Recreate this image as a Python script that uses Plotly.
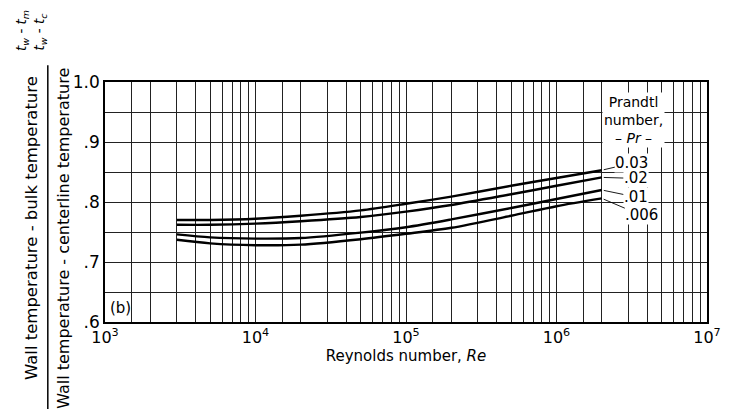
import math
import plotly.graph_objects as go

# Reynolds numbers at which the curves were read
re_vals = [3e3, 5e3, 1e4, 2e4, 5e4, 1e5, 2e5, 5e5, 1e6, 2e6]

# Temperature ratio curves for each Prandtl number
pr_003 = [0.770, 0.770, 0.772, 0.777, 0.786, 0.797, 0.809, 0.827, 0.840, 0.853]
pr_002 = [0.762, 0.762, 0.764, 0.768, 0.775, 0.784, 0.795, 0.813, 0.827, 0.841]
pr_001 = [0.746, 0.741, 0.739, 0.740, 0.749, 0.758, 0.771, 0.790, 0.805, 0.820]
pr_0006 = [0.737, 0.731, 0.728, 0.729, 0.738, 0.747, 0.757, 0.777, 0.793, 0.806]

series = [pr_003, pr_002, pr_001, pr_0006]
series_labels = ["0.03", ".02", ".01", ".006"]

# Axis ticks
x_decades = [1e3, 1e4, 1e5, 1e6]
x_minor_mult = [1, 1.5, 2, 3, 4, 5, 6, 7, 8, 9]
x_tick_labels = {1e3: "10<sup>3</sup>", 1e4: "10<sup>4</sup>", 1e5: "10<sup>5</sup>",
                 1e6: "10<sup>6</sup>", 1e7: "10<sup>7</sup>"}
y_grid = [0.60, 0.65, 0.70, 0.75, 0.80, 0.85, 0.90, 0.95, 1.00]
y_tick_labels = {0.60: ".6", 0.70: ".7", 0.80: ".8", 0.90: ".9", 1.00: "1.0"}

x_grid = [d * m for d in x_decades for m in x_minor_mult] + [1e7]
x_text = [x_tick_labels.get(v, "") for v in x_grid]
y_text = [y_tick_labels.get(round(v, 2), "") for v in y_grid]

FONT = "DejaVu Sans"

fig = go.Figure()
for vals, lab in zip(series, series_labels):
    fig.add_trace(go.Scatter(x=re_vals, y=vals, mode="lines", name=lab,
                             line=dict(color="black", width=2.4, shape="spline", smoothing=0.8),
                             showlegend=False, hoverinfo="skip"))

# curve-end labels with leader lines
offsets = [(30, -7), (34, 1), (34, 7), (40, 17)]
for vals, lab, (ax, ay) in zip(series, series_labels, offsets):
    fig.add_annotation(x=math.log10(re_vals[-1]), y=vals[-1], xref="x", yref="y",
                       text=lab, showarrow=True, arrowhead=0, arrowwidth=0.9,
                       arrowcolor="black", ax=ax, ay=ay, standoff=2,
                       xanchor="center", yanchor="middle",
                       font=dict(family=FONT, size=15, color="black"),
                       bgcolor="white", borderpad=0)

# Prandtl number heading
fig.add_annotation(x=0.878, y=0.84, xref="paper", yref="paper",
                   xanchor="center", yanchor="middle",
                   text="Prandtl<br>number,<br>– <i>Pr</i> –", showarrow=False,
                   font=dict(family=FONT, size=14, color="black"),
                   bgcolor="white", borderpad=1, align="center")

# (b) panel label
fig.add_annotation(x=0.025, y=0.06, xref="paper", yref="paper", text="(b)",
                   xanchor="center", yanchor="middle",
                   showarrow=False, font=dict(family=FONT, size=15, color="black"))

# y-axis title as a fraction
fig.add_annotation(x=-0.121, y=0.392, xref="paper", yref="paper",
                   xanchor="center", yanchor="middle",
                   text="Wall temperature - bulk temperature", textangle=-90,
                   showarrow=False, font=dict(family=FONT, size=16.5, color="black"))
fig.add_annotation(x=-0.070, y=0.35, xref="paper", yref="paper",
                   xanchor="center", yanchor="middle",
                   text="Wall temperature - centerline temperature", textangle=-90,
                   showarrow=False, font=dict(family=FONT, size=16, color="black"))
fig.add_shape(type="line", xref="paper", yref="paper", x0=-0.095, x1=-0.095,
              y0=-0.4, y1=1.07, line=dict(color="black", width=1.5))
fig.add_annotation(x=-0.137, y=1.215, xref="paper", yref="paper",
                   xanchor="center", yanchor="middle",
                   text="<i>t<sub>w</sub> - t<sub>m</sub></i>", textangle=-90,
                   showarrow=False, font=dict(family=FONT, size=13.5, color="black"))
fig.add_annotation(x=-0.108, y=1.21, xref="paper", yref="paper",
                   xanchor="center", yanchor="middle",
                   text="<i>t<sub>w</sub> - t<sub>c</sub></i>", textangle=-90,
                   showarrow=False, font=dict(family=FONT, size=13.5, color="black"))

# page body adds an 8px offset, so margins are shifted to compensate
fig.update_layout(
    width=741, height=409,
    margin=dict(l=97, r=42, t=74, b=95),
    paper_bgcolor="white", plot_bgcolor="white",
    font=dict(family=FONT, color="black"),
    xaxis=dict(type="log", range=[3, 7], tickmode="array", tickvals=x_grid, ticktext=x_text,
               showgrid=True, gridcolor="#222", gridwidth=1, ticks="", automargin=False,
               showline=True, linecolor="black", linewidth=1.5, mirror=True,
               tickfont=dict(size=16), zeroline=False,
               title=dict(text="Reynolds number, <i>Re</i>", font=dict(size=15), standoff=2)),
    yaxis=dict(range=[0.6, 1.0], tickmode="array", tickvals=y_grid, ticktext=y_text,
               showgrid=True, gridcolor="#222", gridwidth=1, ticks="", automargin=False,
               showline=True, linecolor="black", linewidth=1.5, mirror=True,
               tickfont=dict(size=17), zeroline=False),
)

fig.write_html("out.html")
